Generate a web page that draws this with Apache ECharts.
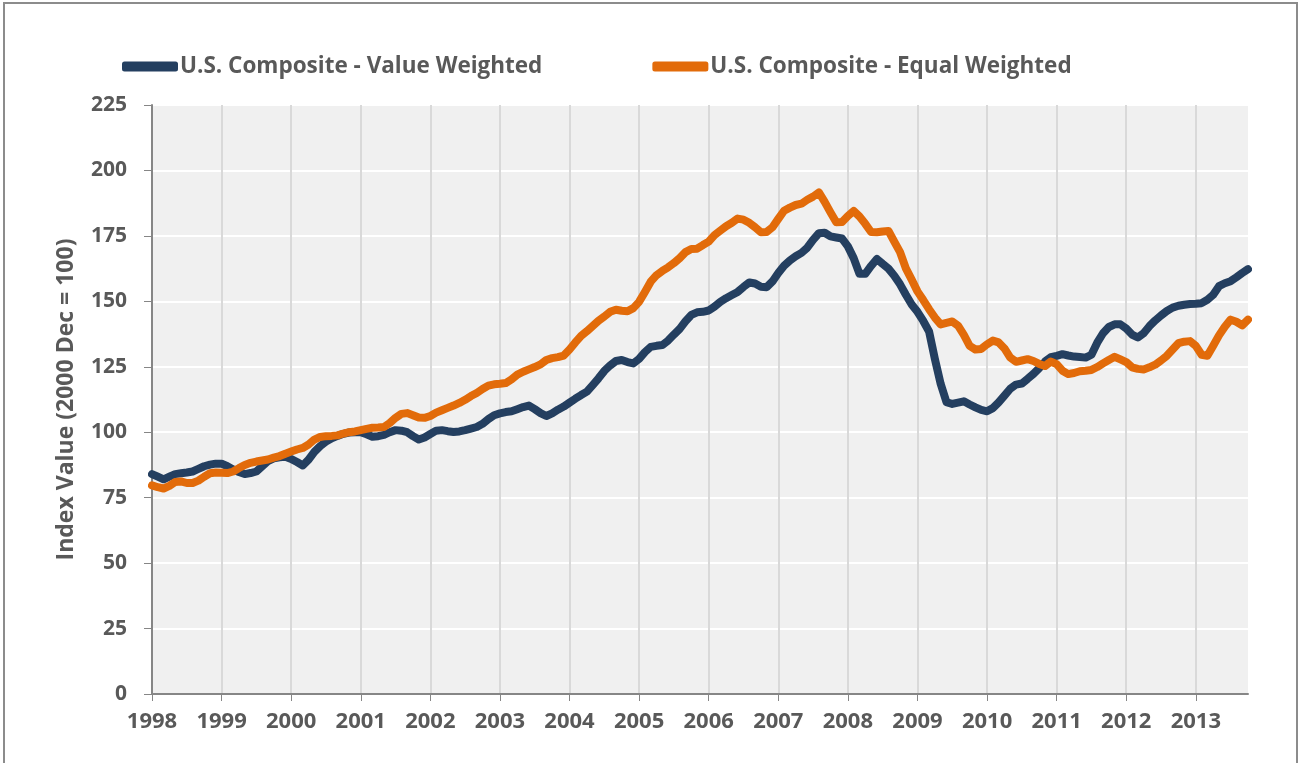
<!DOCTYPE html>
<html>
<head>
<meta charset="utf-8">
<script src="https://cdn.jsdelivr.net/npm/echarts/dist/echarts.min.js"></script>
<style>
html, body { margin: 0; padding: 0; background: #fff; }
#frame { position: absolute; left: 3px; top: 2px; width: 1295px; height: 800px; border: 2px solid #8c8c8c; box-sizing: border-box; }
#main { position: absolute; left: 0; top: 0; width: 1302px; height: 763px; }
</style>
</head>
<body>
<div id="frame"></div>
<div id="main"></div>
<script>
// monthly index values, Jan 1998 .. Oct 2013
const years = ['1998','1999','2000','2001','2002','2003','2004','2005','2006','2007','2008','2009','2010','2011','2012','2013']
const monthsInLastYear = 10

const valueWeighted = [
  84, 83, 82, 83, 84, 84.3, 84.6, 85, 86, 87, 87.6, 88,
  88, 87, 85.8, 84.8, 84, 84.4, 85, 87, 89, 90, 90.4, 90.6,
  89.8, 88.6, 87.3, 89.5, 92.5, 94.7, 96.4, 97.7, 98.6, 99.4, 99.9, 100,
  100, 99.2, 98.3, 98.5, 99, 100, 100.8, 100.6, 100, 98.5, 97.2, 98,
  99.3, 100.6, 100.8, 100.4, 100.1, 100.3, 100.8, 101.4, 102, 103.2, 105, 106.5,
  107.2, 107.7, 108, 108.8, 109.6, 110.2, 108.8, 107.3, 106.2, 107.2, 108.6, 109.8,
  111.3, 112.8, 114.2, 115.5, 118, 120.6, 123.4, 125.5, 127.2, 127.6, 126.8, 126.3,
  128, 130.6, 132.6, 133, 133.3, 135, 137.3, 139.5, 142.4, 144.8, 145.8, 146,
  146.5, 148, 149.8, 151.2, 152.4, 153.6, 155.5, 157.2, 156.8, 155.6, 155.4, 157.6,
  160.8, 163.6, 165.6, 167.2, 168.5, 170.5, 173.5, 176, 176.2, 174.8, 174.4, 174,
  171, 166.5, 160.5, 160.5, 163.5, 166.2, 164.3, 162.5, 159.8, 156.5, 152.5, 148.8,
  146, 142.5, 138.5, 128, 118.5, 111.5, 110.8, 111.3, 111.8, 110.6, 109.5, 108.5,
  108, 109.2, 111.4, 114, 116.6, 118.2, 118.6, 120.4, 122.3, 124.5, 127, 128.7,
  129.2, 129.8, 129.3, 128.9, 128.7, 128.5, 129.6, 134.2, 137.8, 140.2, 141.2, 141.2,
  139.6, 137.3, 136.2, 137.8, 140.5, 142.7, 144.6, 146.3, 147.6, 148.3, 148.7, 149,
  149.1, 149.3, 150.6, 152.5, 155.8, 156.9, 157.7, 159.2, 160.8, 162.3
]

const equalWeighted = [
  79.7, 79, 78.5, 79.5, 81, 81.2, 80.6, 80.6, 81.5, 83, 84.3, 84.6,
  84.5, 84.4, 85, 86.3, 87.5, 88.3, 88.8, 89.2, 89.6, 90.3, 90.9, 91.8,
  92.6, 93.4, 94, 95.3, 97.2, 98.2, 98.5, 98.6, 98.8, 99.5, 100, 100.3,
  100.8, 101.3, 101.7, 101.8, 102, 103.5, 105.5, 107, 107.3, 106.5, 105.6, 105.5,
  106.2, 107.5, 108.4, 109.3, 110.2, 111.2, 112.4, 113.8, 115, 116.5, 117.8, 118.3,
  118.5, 118.8, 120.2, 122, 123.1, 124, 124.9, 125.9, 127.6, 128.3, 128.7, 129.3,
  131.6, 134.3, 136.8, 138.6, 140.6, 142.6, 144.2, 146, 146.8, 146.4, 146.2, 147.4,
  149.8, 153.6, 157.5, 160, 161.6, 163, 164.6, 166.5, 168.8, 170, 170.1, 171.5,
  172.8, 175.3, 177, 178.7, 180, 181.6, 181.2, 180, 178.3, 176.4, 176.5, 178.3,
  181.5, 184.6, 185.8, 186.8, 187.3, 188.8, 190, 191.6, 188, 184, 180.2, 180.3,
  182.6, 184.5, 182.4, 179.6, 176.5, 176.4, 176.7, 176.9, 172.8, 168.8, 162.6, 158.3,
  153.8, 150.5, 147, 143.8, 141.2, 141.8, 142.3, 140.7, 137.2, 133, 131.6, 131.8,
  133.6, 135, 134.3, 132, 128.5, 126.9, 127.4, 127.9, 127.2, 126.1, 125.3, 127,
  126, 123.5, 122.2, 122.6, 123.3, 123.5, 123.8, 124.9, 126.3, 127.6, 128.8, 127.8,
  126.8, 124.8, 124.2, 124, 124.8, 125.8, 127.4, 129.2, 131.6, 134, 134.6, 134.8,
  133, 129.6, 129.2, 133, 137, 140.3, 143, 142.2, 140.8, 143
]

const seriesNames = ['U.S. Composite - Value Weighted', 'U.S. Composite - Equal Weighted']

// one category per month
const months = []
years.forEach((y, i) => {
  const n = i === years.length - 1 ? monthsInLastYear : 12
  for (let m = 1; m <= n; m++) months.push(y + '-' + (m < 10 ? '0' + m : m))
})

const isJan = (i) => i % 12 === 0
const font = '"Open Sans", Lato, sans-serif'
const txt = '#595959'

let chart = echarts.init(document.getElementById('main'))

chart.setOption({
  animation: false,
  textStyle: { fontFamily: font },
  legend: {
    top: 50,
    left: 117,
    itemWidth: 56,
    itemHeight: 10,
    itemGap: 110,
    icon: 'roundRect',
    textStyle: { fontSize: 22.5, fontWeight: 'bold', color: txt, fontFamily: font, padding: [0, 0, 0, -3] },
    data: seriesNames
  },
  grid: {
    left: 152,
    right: 54,
    top: 105,
    bottom: 69,
    show: true,
    backgroundColor: '#f0f0f0',
    borderWidth: 0
  },
  xAxis: {
    type: 'category',
    data: months,
    boundaryGap: false,
    axisLine: { lineStyle: { color: '#868686', width: 2 } },
    axisTick: { interval: isJan, length: 7, lineStyle: { color: '#868686', width: 1 } },
    axisLabel: {
      interval: isJan,
      formatter: (v) => v.slice(0, 4),
      fontSize: 22,
      fontWeight: 'bold',
      color: txt,
      margin: 17,
      fontFamily: font
    },
    splitLine: { show: true, interval: isJan, lineStyle: { color: '#d9d9d9', width: 2 } }
  },
  yAxis: {
    type: 'value',
    min: 0,
    max: 225,
    interval: 25,
    name: 'Index Value (2000 Dec = 100)',
    nameLocation: 'middle',
    nameGap: 74,
    nameTextStyle: { fontSize: 23, fontWeight: 'bold', color: txt, fontFamily: font },
    axisLine: { show: true, lineStyle: { color: '#868686', width: 2 } },
    axisTick: { show: true, length: 8, lineStyle: { color: '#868686', width: 1 } },
    axisLabel: { fontSize: 21, fontWeight: 'bold', color: txt, margin: 25, fontFamily: font },
    splitLine: { lineStyle: { color: '#ffffff', width: 2 } }
  },
  series: [
    {
      name: seriesNames[0],
      type: 'line',
      data: valueWeighted,
      showSymbol: false,
      symbol: 'none',
      color: '#243F60',
      lineStyle: { width: 8, color: '#243F60', cap: 'round', join: 'round' }
    },
    {
      name: seriesNames[1],
      type: 'line',
      data: equalWeighted,
      showSymbol: false,
      symbol: 'none',
      color: '#E26B0A',
      lineStyle: { width: 8, color: '#E26B0A', cap: 'round', join: 'round' }
    }
  ]
})
</script>
</body>
</html>
